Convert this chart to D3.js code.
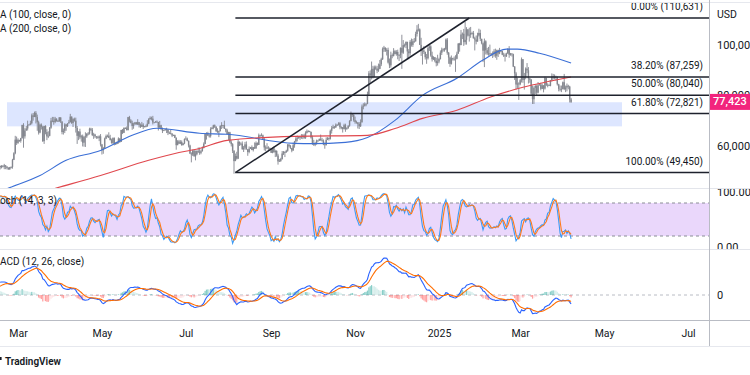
<!DOCTYPE html>
<html>
<head>
<meta charset="utf-8">
<script src="https://cdn.jsdelivr.net/npm/d3@7"></script>
<style>
body { margin: 0; background: #fff; }
svg { display: block; font-family: Roboto, "Liberation Sans", sans-serif; }
</style>
</head>
<body>
<svg id="chart" width="750" height="375"></svg>
<script>
// daily BTCUSD, thousands of USD, one value per day from firstDay
const firstDay = "2024-01-01";
const closes = [
  44.2,44.9,42.8,44.2,44.2,43.9,43.9,47.0,46.1,46.6,46.3,42.8,42.8,41.7,42.5,43.1,42.7,41.3,41.6,41.7,41.6,39.5,39.9,40.1,39.9,41.8,42.1,42.0,43.3,42.9,42.6,
  43.1,43.2,43.0,42.6,42.7,43.1,44.3,45.3,47.1,47.8,48.3,50.0,49.7,51.8,52.0,52.1,51.6,52.1,51.8,52.3,51.8,51.3,50.7,51.6,51.7,54.5,57.1,62.5,61.2,
  62.4,62.0,63.1,68.3,63.8,66.1,66.9,68.3,68.5,69.0,72.1,71.5,73.1,71.4,69.4,65.3,68.4,67.6,61.9,67.9,65.5,63.8,64.0,67.2,70.0,69.9,69.5,70.8,69.9,69.7,71.3,
  69.7,65.5,66.0,68.5,67.8,68.9,69.4,71.6,69.1,70.6,70.0,67.1,64.0,65.7,63.4,63.8,61.3,63.5,63.8,64.9,64.9,66.8,66.4,64.3,64.5,63.8,63.4,63.1,63.8,60.6,
  58.3,59.1,62.9,63.9,64.0,63.2,62.3,61.2,63.1,60.8,60.8,61.5,62.9,61.6,66.3,65.2,67.1,67.0,66.3,71.4,70.1,69.1,67.9,68.5,69.3,68.5,69.4,68.3,67.6,68.4,67.5,
  67.7,67.8,68.8,70.6,71.1,70.8,69.3,69.3,69.6,69.5,67.3,68.2,66.8,66.0,66.2,66.6,66.5,65.2,65.0,64.9,64.1,64.3,63.2,60.3,61.8,60.9,61.6,60.3,61.0,62.7,
  62.9,62.0,60.2,57.0,56.6,58.2,55.9,56.7,58.0,57.7,57.3,57.9,59.2,60.8,64.7,65.1,64.1,63.9,66.7,67.2,68.2,67.6,65.9,65.4,65.8,67.9,68.3,68.3,66.8,66.2,64.6,
  65.4,61.5,60.7,58.1,54.0,56.0,55.0,61.7,60.9,60.9,58.7,59.3,60.6,58.7,57.6,58.9,59.5,58.4,59.5,59.0,61.2,60.4,64.2,64.2,64.2,62.8,59.4,59.0,59.4,59.1,58.9,
  57.3,59.1,57.5,58.0,56.2,53.9,54.1,54.8,57.0,57.6,57.4,58.1,60.6,60.0,59.2,58.2,60.3,61.8,62.9,63.2,63.6,63.3,63.6,64.1,63.2,65.2,65.8,65.9,65.6,63.3,
  60.8,60.6,60.8,62.1,62.1,62.8,62.2,62.1,60.6,60.3,62.4,63.2,62.8,66.0,67.0,67.6,67.4,68.4,68.4,69.0,67.4,67.4,66.7,68.2,66.6,67.0,68.0,69.9,72.7,72.3,70.2,
  69.5,69.3,68.7,67.8,69.4,75.6,75.9,76.5,76.7,80.4,88.7,87.9,90.5,87.3,91.1,90.6,89.8,90.5,92.3,94.3,98.4,98.9,97.7,98.0,93.0,91.9,95.9,95.6,97.5,96.4,
  97.2,95.9,96.0,98.8,96.9,99.9,99.9,101.2,97.4,96.7,101.2,100.0,101.4,101.4,104.3,106.0,106.1,100.0,97.5,97.8,97.2,95.1,94.7,98.7,99.4,95.8,94.3,95.1,93.7,92.8,93.4,
  94.4,96.9,98.1,98.2,98.3,102.1,96.9,95.0,92.5,94.7,94.5,94.5,94.5,96.5,100.5,99.9,104.1,104.4,101.1,102.0,106.1,103.7,104.0,104.7,104.7,102.6,102.1,101.3,103.7,104.7,102.4,
  100.6,97.7,101.4,97.9,96.6,96.6,96.5,96.5,96.5,97.4,95.7,97.9,96.6,97.5,97.6,96.1,95.8,95.5,96.6,98.3,96.1,96.6,96.3,91.4,88.7,84.3,84.7,84.4,
  86.0,94.3,86.1,87.2,90.6,89.9,86.7,86.2,80.7,78.5,83.0,83.7,81.1,84.0,84.3,82.6,84.0,82.7,86.9,84.2,84.1,83.8,86.1,87.5,87.5,86.9,87.2,84.4,82.6,82.3,82.5,
  85.2,82.5,83.1,83.8,83.5,78.4,77.423
];
const highs = [
  44.2,45.9,45.5,44.8,44.4,44.2,44.5,47.2,47.9,47.6,48.9,46.5,43.2,43.1,43.3,43.5,43.2,42.9,42.2,41.9,41.9,41.7,40.5,40.6,40.3,42.2,42.2,42.8,43.3,43.8,43.7,
  43.3,43.5,43.4,43.1,43.5,43.4,44.5,45.6,48.2,48.2,48.6,50.3,50.4,52.0,52.8,52.6,52.2,52.4,52.4,52.9,52.4,52.0,51.6,51.7,51.9,54.9,57.5,64.0,63.7,
  63.0,62.4,63.2,68.4,69.0,67.0,67.9,70.0,68.6,70.0,72.8,73.0,73.6,73.8,72.4,70.0,68.8,68.9,68.0,68.0,68.2,66.6,65.8,67.5,71.1,71.5,71.5,71.5,70.9,70.3,71.4,
  71.3,69.7,66.9,69.0,68.7,69.0,70.3,72.7,71.7,71.0,71.2,71.2,67.9,65.8,66.8,64.4,64.5,64.0,65.4,65.0,65.5,67.2,67.2,67.1,65.2,64.8,63.9,64.0,64.2,64.7,
  60.8,59.6,63.3,64.5,64.5,65.4,64.4,62.9,63.4,63.4,61.5,61.8,63.4,63.1,66.4,66.7,67.4,67.4,67.7,71.5,71.9,70.6,70.0,69.2,69.5,69.5,70.6,69.5,68.9,69.5,69.0,
  67.9,68.4,70.2,71.0,71.7,71.6,71.9,69.5,69.9,70.1,69.5,69.9,68.4,67.3,66.4,66.9,67.2,66.6,65.7,66.4,65.0,64.5,64.5,63.4,62.3,62.4,62.3,62.2,61.2,63.0,
  63.8,63.3,62.2,60.5,57.5,58.5,58.3,58.2,58.3,59.4,59.4,58.5,59.8,61.4,64.9,65.4,65.6,64.8,67.4,67.6,68.4,68.5,67.8,67.0,66.1,68.2,69.4,68.3,70.0,66.9,66.8,
  65.6,65.6,62.2,61.1,58.3,57.0,57.7,62.7,61.7,61.4,61.8,60.0,61.6,61.8,58.4,59.8,59.6,60.2,59.6,61.4,61.8,61.4,64.9,64.5,65.0,64.5,63.2,60.2,61.1,59.9,59.4,
  59.1,59.4,59.8,58.5,58.3,56.9,54.8,55.3,58.0,58.0,57.9,58.5,60.7,60.6,60.4,59.2,61.3,62.0,63.8,64.1,63.6,63.8,64.7,64.7,64.8,65.8,66.5,66.2,66.0,65.6,
  64.1,62.4,61.5,62.5,62.4,62.9,64.5,63.2,62.6,61.3,63.4,63.5,63.3,66.5,67.9,68.4,67.9,68.9,68.6,69.4,69.5,67.8,67.5,68.8,68.8,67.4,68.2,70.2,73.6,72.9,72.6,
  71.6,70.0,69.4,69.4,70.5,76.4,76.9,77.2,76.9,81.5,89.6,89.9,93.4,91.7,91.8,91.8,91.7,92.6,94.0,94.9,99.0,99.6,99.0,98.7,98.9,94.6,97.3,96.6,98.7,98.0,
  97.9,98.1,96.3,99.0,104.0,101.9,100.5,101.3,101.2,98.3,101.9,102.5,102.3,102.7,105.2,107.8,108.3,106.5,102.8,98.2,99.5,97.3,96.4,99.4,99.9,99.9,97.3,95.5,95.2,94.9,96.1,
  94.9,97.8,98.9,98.7,98.8,102.5,102.7,97.2,95.3,95.8,94.9,95.4,95.9,97.3,100.7,100.8,105.9,104.9,106.3,109.1,107.0,106.3,106.8,107.1,105.2,105.5,103.2,103.7,104.8,106.4,106.0,
  102.0,100.9,102.5,101.8,98.8,99.2,100.1,96.8,97.4,98.3,98.5,98.1,98.1,98.8,97.9,97.7,96.9,96.6,96.9,98.7,99.5,96.8,96.5,96.5,91.6,89.3,87.0,85.2,
  86.5,95.0,94.4,88.9,91.1,92.8,91.2,86.9,86.5,83.9,83.6,84.3,84.3,85.3,84.7,85.0,84.7,84.0,87.4,87.0,84.8,84.4,86.1,88.7,88.5,88.3,87.8,87.5,84.6,83.9,83.9,
  85.5,88.5,83.9,84.7,84.2,83.8,79.0
];
const lows = [
  42.2,44.2,40.8,42.6,43.4,43.6,43.6,43.2,45.2,44.4,45.7,41.5,42.4,41.7,41.7,42.1,42.2,40.7,40.3,41.4,41.5,39.4,38.6,39.5,39.5,39.9,41.6,41.9,41.8,42.7,42.3,
  41.9,42.6,42.9,42.3,42.3,42.6,42.8,44.3,45.2,46.9,47.7,47.7,48.4,49.3,51.3,51.6,50.7,51.1,51.5,50.8,50.8,50.7,50.6,50.6,51.1,51.0,54.4,56.7,60.4,
  60.8,61.6,61.3,62.9,59.3,62.9,66.0,66.1,68.1,68.2,68.5,70.0,71.4,68.9,66.0,64.5,65.0,66.5,61.6,60.8,64.6,62.3,63.1,63.8,66.8,69.4,68.4,69.0,69.6,69.6,69.6,
  69.1,64.6,64.5,65.1,66.0,67.5,68.9,69.3,68.7,67.5,69.6,65.3,60.8,62.3,62.7,61.7,59.8,59.7,59.6,63.2,64.2,64.5,65.9,63.9,62.8,63.2,62.8,62.9,61.9,59.8,
  56.6,56.9,58.9,62.7,63.4,63.1,62.2,60.9,60.7,60.2,60.6,60.7,60.9,61.2,61.6,64.7,65.1,66.7,66.1,66.1,69.3,68.9,66.4,66.8,68.6,68.5,68.3,67.3,67.1,67.5,66.7,
  67.4,67.4,67.6,68.6,70.4,70.1,68.5,69.1,69.2,69.2,66.1,66.9,66.3,65.1,65.9,66.1,65.1,64.3,64.7,64.6,63.5,63.9,63.1,58.5,60.3,60.8,60.7,60.1,60.4,60.7,
  62.5,61.8,59.4,56.8,53.5,56.0,55.8,54.3,56.3,57.2,56.5,56.7,57.8,59.0,60.7,62.5,63.9,63.3,63.3,66.6,66.6,67.1,65.5,65.2,63.5,65.8,66.7,67.1,66.7,65.4,64.5,
  62.3,61.1,59.8,57.2,49.0,54.0,54.6,54.8,60.0,60.2,58.5,57.6,58.5,58.5,56.1,57.1,58.8,58.3,57.8,58.8,58.9,60.1,60.4,63.6,63.8,62.8,58.2,57.9,58.8,57.9,58.7,
  57.2,57.1,57.4,55.6,55.7,52.6,53.7,53.7,54.6,56.4,55.6,57.4,57.7,59.5,58.8,57.5,58.1,59.3,61.3,61.8,62.8,62.4,62.8,62.7,62.8,62.8,64.9,65.4,65.4,62.9,
  60.4,60.0,59.9,60.5,61.7,62.0,62.1,61.8,60.3,58.9,60.2,62.3,62.1,62.5,64.9,66.8,66.8,67.1,67.9,68.1,66.6,66.6,65.3,66.5,65.6,66.5,66.8,67.6,69.7,71.5,69.6,
  68.8,68.8,66.9,66.7,67.5,69.2,74.5,75.6,75.7,76.5,80.2,85.1,86.3,86.7,87.1,90.1,88.8,89.3,90.4,91.6,94.0,97.2,97.2,95.8,92.6,90.8,91.0,94.7,95.4,96.2,
  95.7,94.3,93.6,94.7,90.5,96.4,99.0,98.7,94.2,94.3,95.7,99.3,99.2,100.8,101.3,103.3,105.3,100.0,95.6,92.2,96.4,94.2,92.5,94.2,97.6,95.3,93.4,94.0,93.1,91.5,91.8,
  92.7,94.2,96.0,97.3,97.3,97.9,96.1,92.5,91.3,92.2,93.8,93.7,89.3,94.3,96.5,97.3,99.9,102.3,99.6,100.1,100.1,103.3,101.3,102.8,104.1,102.5,97.8,100.2,101.3,103.3,101.5,
  100.2,93.2,91.2,96.2,96.0,95.7,95.7,95.7,94.8,95.3,94.9,94.1,95.2,96.3,97.3,95.9,95.2,93.4,95.2,96.4,94.9,95.7,95.4,91.2,86.1,82.3,82.7,78.2,
  84.0,85.1,85.0,82.3,86.4,88.8,84.7,85.0,80.0,76.6,76.6,80.6,79.9,80.8,83.9,82.0,82.5,81.2,82.3,83.7,83.2,83.7,83.6,85.5,86.3,86.3,85.9,83.9,81.6,81.6,81.3,
  82.4,82.1,81.3,81.6,82.4,77.2,77.0
];

// moving averages
const ma100Dates = ["2024-02-10","2024-02-24","2024-03-17","2024-04-05","2024-04-30","2024-05-23","2024-06-10","2024-07-11","2024-07-31","2024-09-18","2024-10-01","2024-10-25","2024-11-10","2024-11-30","2024-12-20","2025-01-14","2025-02-02","2025-02-19","2025-02-27","2025-03-15","2025-04-07"];
const ma100Values = [40500,43500,48300,54300,58200,64200,67000,65000,64600,61000,60900,61400,63300,70100,80000,86800,94000,98300,98300,96700,92800];
const ma200Dates = ["2024-02-17","2024-03-30","2024-04-30","2024-06-04","2024-06-26","2024-07-11","2024-07-31","2024-09-18","2024-11-10","2024-11-30","2024-12-20","2025-01-14","2025-02-07","2025-03-03","2025-04-07"];
const ma200Values = [37000,43500,48300,54300,57400,59000,62200,63800,64200,66900,70900,74100,79300,83200,87300];

// fibonacci retracement
const fibPercents = ["0.00%", "38.20%", "50.00%", "61.80%", "100.00%"];
const fibPrices = [110631, 87259, 80040, 72821, 49450];
const fibStart = "2024-08-06";
const trendEnd = "2025-01-23";

// support zone
const zoneDates = ["2024-02-22", "2025-05-14"];
const zonePrices = [67750, 77300];

const priceTicks = [60000, 80000, 100000];

const svg = d3.select("#chart");
const plotR = 709;
const parse = d3.utcParse("%Y-%m-%d");

const day0 = parse(firstDay);
const candles = closes.map((c, i) => {
  const o = i ? closes[i - 1] : c;
  return {
    date: d3.utcDay.offset(day0, i),
    open: o * 1000,
    close: c * 1000,
    high: Math.max(highs[i], o, c) * 1000,
    low: Math.min(lows[i], o, c) * 1000
  };
});

// indicators
function ema(vals, n) {
  const a = 2 / (n + 1);
  let out = [];
  vals.forEach((v, i) => out.push(i ? a * v + (1 - a) * out[i - 1] : v));
  return out;
}
const cl = candles.map(d => d.close);
const e12 = ema(cl, 12), e26 = ema(cl, 26);
const macd = cl.map((v, i) => e12[i] - e26[i]);
const signal = ema(macd, 9);
candles.forEach((d, i) => {
  d.macd = macd[i];
  d.signal = signal[i];
  d.hist = macd[i] - signal[i];
  d.prevHist = i ? macd[i - 1] - signal[i - 1] : d.hist;
});
let raw = candles.map((d, i) => {
  if (i < 13) return null;
  const win = candles.slice(i - 13, i + 1);
  const hh = d3.max(win, w => w.high), ll = d3.min(win, w => w.low);
  return 100 * (d.close - ll) / (hh - ll);
});
let kArr = raw.map((v, i) => (i < 15 ? null : (raw[i] + raw[i - 1] + raw[i - 2]) / 3));
let dArr = kArr.map((v, i) => (i < 17 ? null : (kArr[i] + kArr[i - 1] + kArr[i - 2]) / 3));
candles.forEach((d, i) => { d.k = kArr[i]; d.d = dArr[i]; });

// scales
const xBase = d3.scaleUtc().domain([parse("2024-03-01"), parse("2025-01-01")]).range([18, 439]);
const x = d3.scaleUtc().domain([xBase.invert(0), xBase.invert(plotR)]).range([0, plotR]);
const yPrice = d3.scaleLinear().domain([fibPrices[4], fibPrices[0]]).range([172.6, 18]);
const yStoch = d3.scaleLinear().domain([0, 100]).range([247, 192]);
const visible = candles.filter(d => d.date >= x.domain()[0]);
const yMacd = d3.scaleLinear().domain([0, d3.max(visible, d => d.macd)]).range([295, 258]);

// frame
const defs = svg.append("defs");
function clip(id, x0, y0, w, h) {
  defs.append("clipPath").attr("id", id).append("rect").attr("x", x0).attr("y", y0).attr("width", w).attr("height", h);
}
clip("cMain", 0, 3, plotR, 185);
clip("cStoch", 0, 189, plotR, 60);
clip("cMacd", 0, 250, plotR, 70);
clip("cAxMain", plotR, 3, 41, 185);
clip("cAxStoch", plotR, 189, 41, 60);

svg.append("line").attr("x1", 0).attr("x2", 750).attr("y1", 2.5).attr("y2", 2.5).attr("stroke", "#e6e8ee");
[188.5, 249.5].forEach(y => svg.append("line").attr("x1", 0).attr("x2", 750).attr("y1", y).attr("y2", y).attr("stroke", "#e3e5eb"));
svg.append("line").attr("x1", 0).attr("x2", 750).attr("y1", 320.5).attr("y2", 320.5).attr("stroke", "#b9bcc4");
svg.append("line").attr("x1", 0).attr("x2", 750).attr("y1", 346.5).attr("y2", 346.5).attr("stroke", "#e6e8ee");
svg.append("line").attr("x1", plotR + 0.5).attr("x2", plotR + 0.5).attr("y1", 0).attr("y2", 346).attr("stroke", "#b9bcc4");

// main panel
const main = svg.append("g").attr("clip-path", "url(#cMain)");
main.append("rect")
  .attr("x", x(parse(zoneDates[0])))
  .attr("width", x(parse(zoneDates[1])) - x(parse(zoneDates[0])))
  .attr("y", yPrice(zonePrices[1]))
  .attr("height", yPrice(zonePrices[0]) - yPrice(zonePrices[1]))
  .attr("fill", "rgba(41,98,255,0.16)");

const cg = main.append("g");
cg.selectAll("line").data(visible).join("line")
  .attr("x1", d => x(d.date)).attr("x2", d => x(d.date))
  .attr("y1", d => yPrice(d.high)).attr("y2", d => yPrice(d.low))
  .attr("stroke", "#83868e").attr("stroke-width", 0.9);
cg.selectAll("rect").data(visible).join("rect")
  .attr("x", d => x(d.date) - 0.7).attr("width", 1.4)
  .attr("y", d => yPrice(Math.max(d.open, d.close)))
  .attr("height", d => Math.max(0.8, Math.abs(yPrice(d.open) - yPrice(d.close))))
  .attr("fill", "#83868e");

const maLine = d3.line().x(d => x(d.date)).y(d => yPrice(d.value)).curve(d3.curveMonotoneX);
main.append("path")
  .datum(ma100Dates.map((s, i) => ({ date: parse(s), value: ma100Values[i] })))
  .attr("d", maLine).attr("fill", "none").attr("stroke", "#3b6fd6").attr("stroke-width", 1.1);
main.append("path")
  .datum(ma200Dates.map((s, i) => ({ date: parse(s), value: ma200Values[i] })))
  .attr("d", maLine).attr("fill", "none").attr("stroke", "#e0484e").attr("stroke-width", 1.1);

const fx0 = x(parse(fibStart));
main.selectAll(".fib").data(fibPrices).join("line")
  .attr("x1", fx0).attr("x2", plotR)
  .attr("y1", d => yPrice(d)).attr("y2", d => yPrice(d))
  .attr("stroke", "#1e222d").attr("stroke-width", 1.5);
main.append("line")
  .attr("x1", fx0).attr("y1", yPrice(fibPrices[4]))
  .attr("x2", x(parse(trendEnd))).attr("y2", yPrice(fibPrices[0]))
  .attr("stroke", "#1e222d").attr("stroke-width", 1.5);
main.selectAll(".fibText").data(fibPrices).join("text")
  .attr("x", 703).attr("y", d => yPrice(d) - 10.5)
  .attr("text-anchor", "end").attr("dominant-baseline", "middle")
  .attr("font-size", 10).attr("fill", "#131722")
  .text((d, i) => fibPercents[i] + " (" + d3.format(",")(d) + ")");

// stochastic panel
const st = svg.append("g").attr("clip-path", "url(#cStoch)");
st.append("rect").attr("x", 0).attr("width", plotR)
  .attr("y", yStoch(80)).attr("height", yStoch(20) - yStoch(80))
  .attr("fill", "#ead7fb");
[80, 20].forEach(v => st.append("line").attr("x1", 0).attr("x2", plotR)
  .attr("y1", yStoch(v)).attr("y2", yStoch(v))
  .attr("stroke", "#8a8d96").attr("stroke-dasharray", "3,3"));
const stK = visible.filter(d => d.k != null);
st.append("path").datum(stK)
  .attr("d", d3.line().x(d => x(d.date)).y(d => yStoch(d.k)))
  .attr("fill", "none").attr("stroke", "#3d9bf5").attr("stroke-width", 1.1);
st.append("path").datum(stK)
  .attr("d", d3.line().x(d => x(d.date)).y(d => yStoch(d.d)))
  .attr("fill", "none").attr("stroke", "#ff7a1a").attr("stroke-width", 1.1);

// MACD panel
const mg = svg.append("g").attr("clip-path", "url(#cMacd)");
mg.append("line").attr("x1", 0).attr("x2", plotR)
  .attr("y1", yMacd(0)).attr("y2", yMacd(0))
  .attr("stroke", "#b9bcc4").attr("stroke-dasharray", "3,3");
mg.selectAll("rect").data(visible).join("rect")
  .attr("x", d => x(d.date) - 0.6).attr("width", 1.2)
  .attr("y", d => Math.min(yMacd(0), yMacd(d.hist)))
  .attr("height", d => Math.abs(yMacd(d.hist) - yMacd(0)))
  .attr("fill", d => d.hist >= 0 ? (d.hist > d.prevHist ? "#26a69a" : "#b2dfdb") : (d.hist > d.prevHist ? "#ffcdd2" : "#ff5252"))
  .attr("opacity", 0.55);
mg.append("path").datum(visible)
  .attr("d", d3.line().x(d => x(d.date)).y(d => yMacd(d.macd)))
  .attr("fill", "none").attr("stroke", "#2962ff").attr("stroke-width", 1.1);
mg.append("path").datum(visible)
  .attr("d", d3.line().x(d => x(d.date)).y(d => yMacd(d.signal)))
  .attr("fill", "none").attr("stroke", "#ff6d00").attr("stroke-width", 1.1);

// legends, cut at the left edge like the screenshot
const lg = svg.append("g").attr("font-size", 10).attr("fill", "#131722");
function cutLabel(full, hidden, y) {
  const t = lg.append("text").text(hidden);
  const w = t.node().getComputedTextLength();
  t.remove();
  lg.append("text").attr("x", -w).attr("y", y).attr("dominant-baseline", "middle").text(full);
}
cutLabel("MA (100, close, 0)", "M", 15);
cutLabel("MA (200, close, 0)", "M", 29);
cutLabel("Stoch (14, 3, 3)", "St", 201);
cutLabel("MACD (12, 26, close)", "M", 262);

// right axes
function styleAxis(g) {
  g.select(".domain").remove();
  g.selectAll("text").attr("fill", "#131722").attr("font-size", 11).attr("font-family", "Roboto, sans-serif");
}
svg.append("g").attr("clip-path", "url(#cAxMain)")
  .append("g").attr("transform", `translate(${plotR},0)`)
  .call(d3.axisRight(yPrice).tickValues(priceTicks).tickFormat(d3.format(",")).tickSize(0).tickPadding(8))
  .call(styleAxis);
svg.append("g").attr("clip-path", "url(#cAxStoch)")
  .append("g").attr("transform", `translate(${plotR},0)`)
  .call(d3.axisRight(yStoch).tickValues([0, 100]).tickFormat(d3.format(".2f")).tickSize(0).tickPadding(8))
  .call(styleAxis);
svg.append("g").attr("transform", `translate(${plotR},0)`)
  .call(d3.axisRight(yMacd).tickValues([0]).tickFormat(d => "0").tickSize(0).tickPadding(8))
  .call(styleAxis);
svg.append("text").attr("x", 717).attr("y", 15).attr("dominant-baseline", "middle")
  .attr("font-size", 10.5).attr("fill", "#131722").text("USD");

// last price tag
const last = candles[candles.length - 1];
const ly = yPrice(last.close);
svg.append("rect").attr("x", plotR + 1).attr("y", ly - 8).attr("width", 41).attr("height", 16).attr("fill", "#f2247d");
svg.append("text").attr("x", 713).attr("y", ly).attr("dominant-baseline", "middle")
  .attr("font-size", 11).attr("fill", "#fff").attr("font-weight", 500)
  .text(d3.format(",")(Math.round(last.close)));

// time axis
svg.append("g").attr("transform", "translate(0,321)")
  .call(d3.axisBottom(x).ticks(d3.utcMonth.every(2))
    .tickFormat(d => d.getUTCMonth() === 0 ? d3.utcFormat("%Y")(d) : d3.utcFormat("%b")(d))
    .tickSize(0).tickPadding(9))
  .call(g => {
    g.select(".domain").remove();
    g.selectAll("text").attr("fill", "#131722").attr("font-size", 10.5).attr("font-family", "Roboto, sans-serif");
  });

// footer
svg.append("rect").attr("x", 0).attr("y", 357).attr("width", 1.6).attr("height", 3).attr("fill", "#131722");
svg.append("text").attr("x", 5).attr("y", 362).attr("dominant-baseline", "middle")
  .attr("font-size", 10).attr("font-weight", 600).attr("fill", "#131722").text("TradingView");
</script>
</body>
</html>
